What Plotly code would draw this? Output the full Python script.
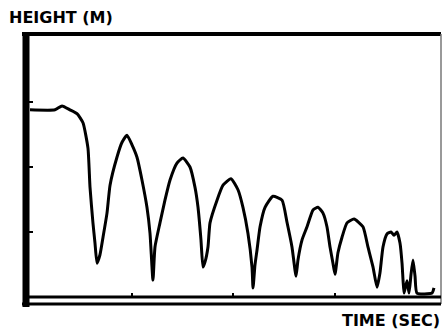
import plotly.graph_objects as go

time_sec = [0.000, 0.246, 0.315, 0.393, 0.462, 0.521, 0.570, 0.590, 0.619, 0.639,
            0.659, 0.688, 0.718, 0.757, 0.787, 0.855, 0.905, 0.954, 1.003, 1.052,
            1.101, 1.150, 1.180, 1.209, 1.229, 1.278, 1.327, 1.377, 1.445, 1.504,
            1.573, 1.622, 1.652, 1.681, 1.701, 1.721, 1.750, 1.770, 1.839, 1.898,
            1.976, 2.045, 2.094, 2.143, 2.183, 2.193, 2.212, 2.232, 2.262, 2.311,
            2.389, 2.478, 2.527, 2.576, 2.616, 2.635, 2.675, 2.724, 2.783, 2.832,
            2.881, 2.920, 2.950, 2.979, 2.999, 3.028, 3.068, 3.117, 3.186, 3.274,
            3.323, 3.373, 3.412, 3.441, 3.471, 3.510, 3.550, 3.579, 3.609, 3.638,
            3.658, 3.668, 3.678, 3.707, 3.727, 3.746, 3.766, 3.786, 3.805, 3.953,
            3.972]
height_m = [2.88, 2.88, 2.94, 2.88, 2.82, 2.68, 2.29, 1.69, 1.14, 0.83,
            0.52, 0.65, 0.92, 1.29, 1.72, 2.15, 2.38, 2.49, 2.34, 2.15,
            1.80, 1.38, 0.98, 0.26, 0.77, 1.14, 1.49, 1.80, 2.06, 2.14,
            2.00, 1.69, 1.38, 0.88, 0.46, 0.54, 0.77, 1.14, 1.49, 1.72,
            1.82, 1.65, 1.38, 0.98, 0.46, 0.14, 0.49, 0.72, 1.08, 1.38,
            1.55, 1.49, 1.15, 0.77, 0.32, 0.57, 0.88, 1.08, 1.34, 1.38,
            1.29, 1.08, 0.77, 0.52, 0.35, 0.68, 0.92, 1.14, 1.20, 1.08,
            0.77, 0.46, 0.15, 0.37, 0.77, 0.97, 1.00, 0.95, 1.00, 0.83,
            0.52, 0.26, 0.06, 0.25, 0.06, 0.34, 0.57, 0.32, 0.06, 0.06,
            0.14]

x_ticks = [1, 2, 3]
y_ticks = [1, 2, 3]
y_title = "HEIGHT (M)"
x_title = "TIME (SEC)"

W, H = 443, 332
L, R, T, B = 27, 441, 34, 297

def px(x):
    return (x - L) / (R - L)

def py(y):
    return (B - y) / (B - T)

fig = go.Figure()
fig.add_trace(go.Scatter(
    x=time_sec, y=height_m, mode="lines",
    line=dict(color="black", width=3, shape="spline", smoothing=0.5),
    hoverinfo="skip", showlegend=False,
))

shapes = [
    # left thick axis
    dict(type="line", xref="paper", yref="paper", x0=px(26), x1=px(26), y0=py(32), y1=py(307),
         line=dict(color="black", width=7)),
    # top frame
    dict(type="line", xref="paper", yref="paper", x0=px(22), x1=px(441), y0=py(34), y1=py(34),
         line=dict(color="black", width=4)),
    # right frame
    dict(type="line", xref="paper", yref="paper", x0=px(441), x1=px(441), y0=py(34), y1=py(304),
         line=dict(color="#777777", width=1.5)),
    # bottom double line
    dict(type="line", xref="paper", yref="paper", x0=px(26), x1=px(441), y0=py(297), y1=py(297),
         line=dict(color="black", width=3)),
    dict(type="line", xref="paper", yref="paper", x0=px(22), x1=px(441), y0=py(304), y1=py(304),
         line=dict(color="black", width=3)),
]

fig.update_layout(
    width=W, height=H,
    margin=dict(l=L, r=W - R, t=T, b=H - B),
    paper_bgcolor="white", plot_bgcolor="white",
    shapes=shapes,
    xaxis=dict(range=[(L - 30) / 101.7, (R - 30) / 101.7], tickvals=x_ticks, ticks="inside",
               ticklen=4, tickwidth=2, tickcolor="black", showticklabels=False,
               showgrid=False, zeroline=False, showline=False, fixedrange=True),
    yaxis=dict(range=[0, (B - T) / 65], tickvals=y_ticks, ticks="inside",
               ticklen=6, tickwidth=2, tickcolor="black", showticklabels=False,
               showgrid=False, zeroline=False, showline=False, fixedrange=True),
    annotations=[
        dict(text="<b>" + y_title + "</b>", xref="paper", yref="paper",
             x=px(7), y=py(18), xanchor="left", yanchor="middle", showarrow=False,
             font=dict(family="DejaVu Sans", size=16, color="black")),
        dict(text="<b>" + x_title + "</b>", xref="paper", yref="paper",
             x=px(442), y=py(320), xanchor="right", yanchor="middle", showarrow=False,
             font=dict(family="DejaVu Sans", size=16, color="black")),
    ],
)

fig.write_html("out.html", config={"displayModeBar": False},
               post_script="document.body.style.margin='0';")
